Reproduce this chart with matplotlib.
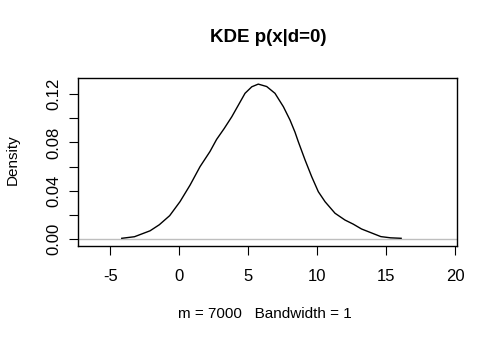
import matplotlib
matplotlib.use("Agg")
import matplotlib.pyplot as plt

plt.rcParams['font.family'] = ['Liberation Sans', 'DejaVu Sans']

# Kernel density estimate of x given d=0 (n = 7000, bandwidth = 1)
x_grid = [-4.17, -3.25, -2.12, -1.45, -0.70, 0.05, 0.78, 1.50, 2.22, 2.70,
          3.25, 3.80, 4.28, 4.76, 5.25, 5.72, 6.33, 6.93, 7.54, 8.02, 8.38,
          8.62, 9.11, 9.59, 10.07, 10.56, 11.28, 12.00, 12.60, 13.20, 13.80,
          14.60, 15.30, 16.07]
density = [0.0008, 0.0021, 0.0070, 0.0120, 0.0195, 0.0311, 0.0448, 0.0600,
           0.0725, 0.0825, 0.0915, 0.1012, 0.1109, 0.1206, 0.1260, 0.1282,
           0.1262, 0.1206, 0.1095, 0.0985, 0.0885, 0.0806, 0.0655, 0.0517,
           0.0393, 0.0310, 0.0215, 0.0159, 0.0125, 0.0085, 0.0058, 0.0022,
           0.0012, 0.0008]

x_ticks = [-5, 0, 5, 10, 15, 20]
y_ticks = [0.00, 0.02, 0.04, 0.06, 0.08, 0.10, 0.12]
y_tick_labels = ["0.00", "", "0.04", "", "0.08", "", "0.12"]

W, H = 498, 344
fig = plt.figure(figsize=(W / 100, H / 100), dpi=100)
ax = fig.add_axes([78.3 / W, 1 - 245.8 / H, (457.3 - 78.3) / W, (245.8 - 78.3) / H])

ax.axhline(0, color="#bebebe", lw=1.0, zorder=1)
ax.plot(x_grid, density, color="black", lw=1.0, zorder=2,
        solid_joinstyle="round")

ax.set_xlim(-7.32, 20.14)
ax.set_ylim(-0.0054, 0.133)

ax.set_xticks(x_ticks)
ax.set_xticklabels([str(t) for t in x_ticks])
ax.set_yticks(y_ticks)
ax.set_yticklabels(y_tick_labels, rotation=90, va="center")

for s in ax.spines.values():
    s.set_linewidth(1.0)
    s.set_color("black")

ax.tick_params(axis="both", length=6.5, width=0.8, labelsize=12, color="black")
ax.tick_params(axis="x", pad=10)
ax.tick_params(axis="y", pad=6)

fig.text(267.8 / W, 1 - 38 / H, "KDE p(x|d=0)", ha="center", va="center",
         fontsize=13.5, fontweight="bold")
fig.text(264.7 / W, 1 - 314 / H, "m = 7000   Bandwidth = 1", ha="center",
         va="center", fontsize=11)
fig.text(13 / W, 1 - 160 / H, "Density", ha="center", va="center",
         fontsize=11, rotation=90)

fig.savefig("out.png", dpi=100)
